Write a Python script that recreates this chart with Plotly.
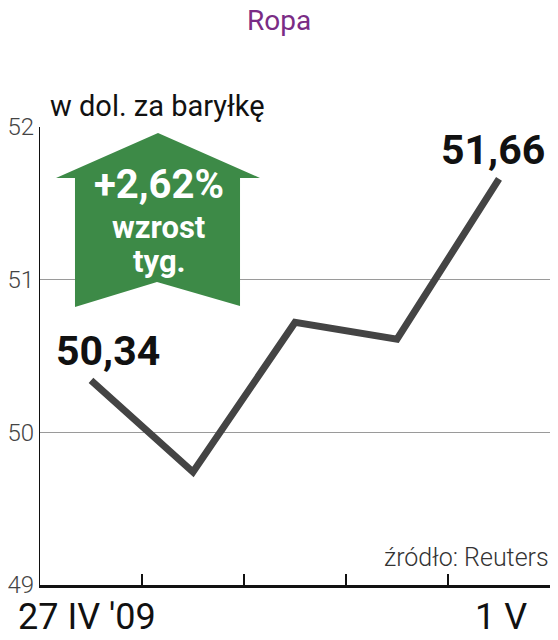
import plotly.graph_objects as go

# ---- data ----
days = [0, 1, 2, 3, 4]
prices = [50.34, 49.74, 50.72, 50.61, 51.66]
date_labels = ["27 IV '09", "1 V"]
date_label_pos = [0, 4]
day_separators = [0.5, 1.5, 2.5, 3.5, 4.5]
y_ticks = [49, 50, 51, 52]
title = "Ropa"
unit = "w dol. za baryłkę"
source = "źródło: Reuters"
change_text = ["+2,62%", "wzrost", "tyg."]

# page body has an 8px default margin -> figure is placed at (8, 8);
# keep the figure inside the visible window
OFF = 8
W, H = 558 - 2 * OFF, 640 - 2 * OFF
L, R, T = 40 - OFF, 0, 127 - OFF
B = H - (585 - OFF)
PW, PH = W - L - R, H - T - B


def px(sx):
    return (sx - OFF - L) / PW


def py(sy):
    return (H - B - (sy - OFF)) / PH


FONT = "Roboto, 'Liberation Sans', sans-serif"

fig = go.Figure()
fig.add_trace(go.Scatter(
    x=days, y=prices, mode="lines",
    line=dict(color="#444444", width=7),
    hoverinfo="skip", showlegend=False,
))


def fmt(v):
    return f"{v:.2f}".replace(".", ",")


annotations = []
annotations.append(dict(x=days[0], y=prices[0], xref="x", yref="y", text=f"<b>{fmt(prices[0])}</b>",
                        showarrow=False, xshift=17, yshift=29,
                        font=dict(family=FONT, size=41, color="#111111")))
annotations.append(dict(x=days[-1], y=prices[-1], xref="x", yref="y", text=f"<b>{fmt(prices[-1])}</b>",
                        showarrow=False, xshift=-6, yshift=29,
                        font=dict(family=FONT, size=41, color="#111111")))

# date labels under the axis
label_xshift = [-4, 2]
for pos, lab, xs in zip(date_label_pos, date_labels, label_xshift):
    annotations.append(dict(x=pos, y=0, xref="x", yref="paper", text=lab, showarrow=False,
                            xanchor="center", yanchor="middle", xshift=xs, yshift=-32,
                            borderpad=0,
                            font=dict(family=FONT, size=36, color="#111111")))

annotations.append(dict(x=px(279), y=py(20), xref="paper", yref="paper", text=title, showarrow=False,
                        xanchor="center", yanchor="middle", borderpad=0,
                        font=dict(family=FONT, size=28, color="#7a2c85")))
annotations.append(dict(x=px(48), y=py(106), xref="paper", yref="paper", text=unit, showarrow=False,
                        xanchor="left", yanchor="middle",
                        font=dict(family=FONT, size=29, color="#111111")))
annotations.append(dict(x=px(550), y=py(557), xref="paper", yref="paper", text=source, showarrow=False,
                        xanchor="right", yanchor="middle", borderpad=0,
                        font=dict(family=FONT, size=25, color="#333333", weight=300)))

annotations.append(dict(x=px(159), y=py(184), xref="paper", yref="paper", text=f"<b>{change_text[0]}</b>",
                        showarrow=False, xanchor="center", yanchor="middle",
                        font=dict(family=FONT, size=40, color="white")))
annotations.append(dict(x=px(158), y=py(227), xref="paper", yref="paper", text=f"<b>{change_text[1]}</b>",
                        showarrow=False, xanchor="center", yanchor="middle",
                        font=dict(family=FONT, size=31, color="white")))
annotations.append(dict(x=px(159), y=py(262), xref="paper", yref="paper", text=f"<b>{change_text[2]}</b>",
                        showarrow=False, xanchor="center", yanchor="middle",
                        font=dict(family=FONT, size=31, color="white")))

# green arrow decoration (screen pixel outline)
pts = [(158, 133), (260, 178), (240, 178), (240, 306), (157, 282), (75, 307), (75, 178), (56, 178)]
path = "M " + " L ".join(f"{px(a):.4f},{py(b):.4f}" for a, b in pts) + " Z"
shapes = [dict(type="path", path=path, xref="paper", yref="paper",
               fillcolor="#3d8a47", line=dict(width=0), layer="above")]

fig.update_layout(
    width=W, height=H,
    margin=dict(l=L, r=R, t=T, b=B, autoexpand=False),
    paper_bgcolor="white", plot_bgcolor="white",
    showlegend=False,
    annotations=annotations,
    shapes=shapes,
    xaxis=dict(range=[-0.5, 4.5], tickvals=day_separators, showticklabels=False, automargin=False,
               ticks="inside", ticklen=11, tickwidth=1.5, tickcolor="#111111",
               showgrid=False, zeroline=False, showline=True, linecolor="#111111", linewidth=3),
    yaxis=dict(range=[49, 52], tickvals=y_ticks, ticks="", automargin=False,
               showgrid=True, gridcolor="#9a9a9a", gridwidth=1.2,
               zeroline=False, showline=True, linecolor="#111111", linewidth=1.2,
               tickfont=dict(family=FONT, size=24, color="#444444", weight=300)),
)

fig.write_html("out.html")
